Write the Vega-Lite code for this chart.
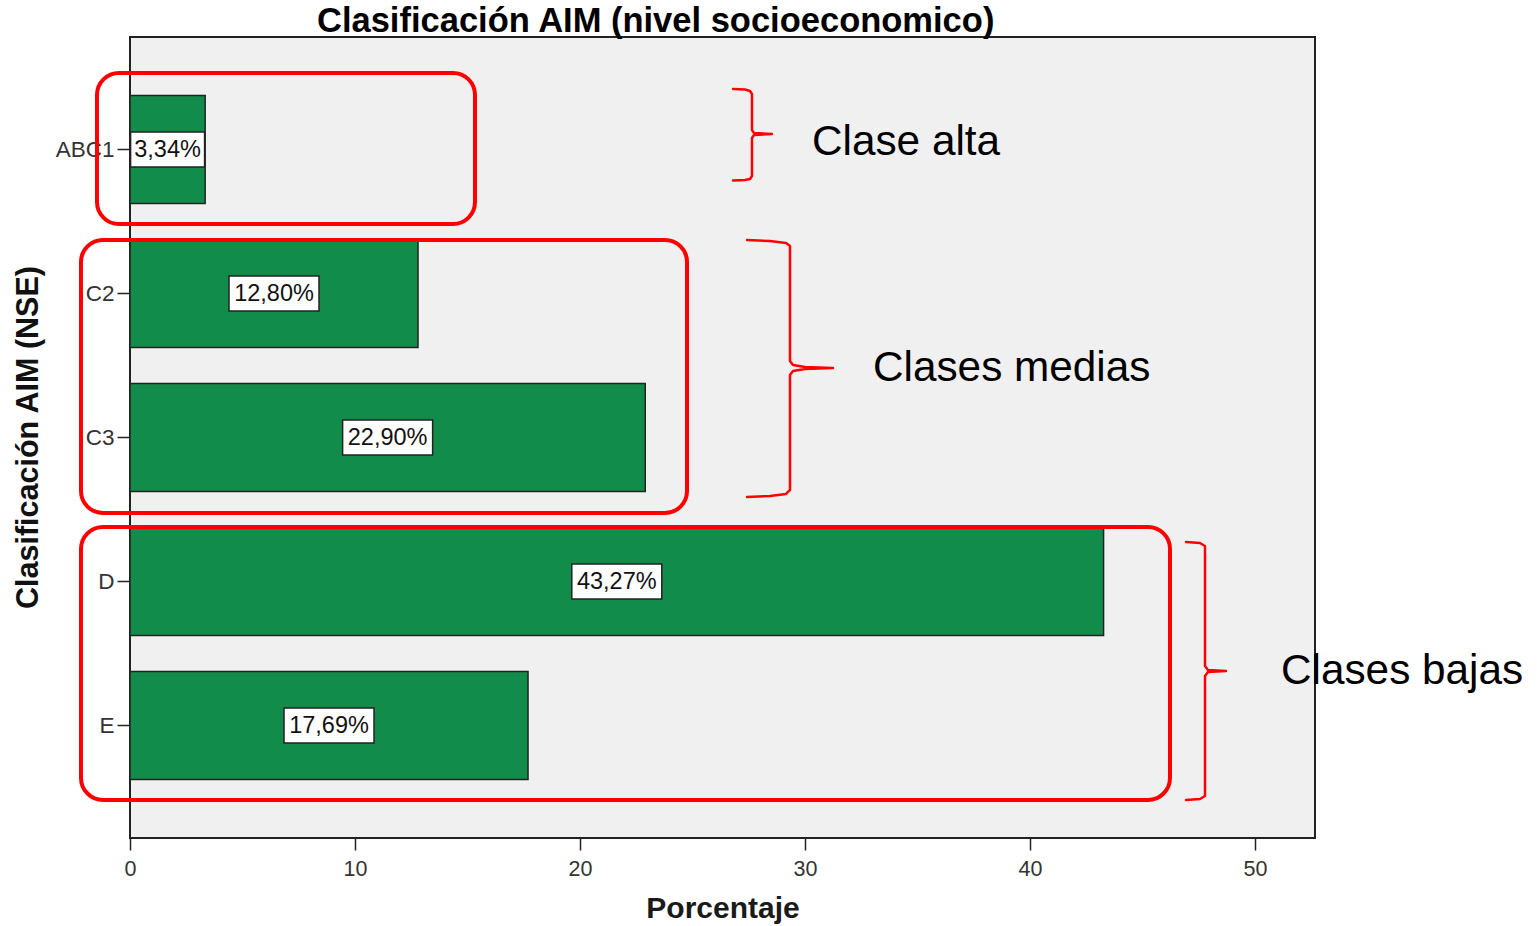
{
  "$schema": "https://vega.github.io/schema/vega-lite/v6.json",
  "width": 1185,
  "height": 801,
  "autosize": {"type": "none"},
  "padding": {"left": 130, "top": 37, "right": 225, "bottom": 88},
  "background": "white",
  "config": {
    "font": "Liberation Sans",
    "view": {"fill": "#F0F0F0", "stroke": "#222222", "strokeWidth": 2}
  },
  "title": {
    "text": "Clasificación AIM (nivel socioeconomico)",
    "fontSize": 34.5,
    "fontWeight": "bold",
    "color": "#000000",
    "anchor": "start",
    "frame": "group",
    "dx": 187,
    "dy": 6,
    "offset": 4
  },
  "datasets": {
    "bars": [
      {"cat": "ABC1", "pct": 3.34, "label": "3,34%"},
      {"cat": "C2", "pct": 12.80, "label": "12,80%"},
      {"cat": "C3", "pct": 22.90, "label": "22,90%"},
      {"cat": "D", "pct": 43.27, "label": "43,27%"},
      {"cat": "E", "pct": 17.69, "label": "17,69%"}
    ],
    "boxes": [
      {"group": "alta", "x1": -1.467, "x2": 15.333, "y1": -0.535, "y2": 0.514},
      {"group": "medias", "x1": -2.178, "x2": 24.756, "y1": 0.625, "y2": 2.521},
      {"group": "bajas", "x1": -2.178, "x2": 46.222, "y1": 2.618, "y2": 4.514}
    ],
    "braces": [
      {"b": "alta", "o": 1, "x": 26.8, "y": -0.4236},
      {"b": "alta", "o": 2, "x": 27.333, "y": -0.420},
      {"b": "alta", "o": 3, "x": 27.556, "y": -0.410},
      {"b": "alta", "o": 4, "x": 27.644, "y": -0.389},
      {"b": "alta", "o": 5, "x": 27.644, "y": -0.139},
      {"b": "alta", "o": 6, "x": 27.733, "y": -0.118},
      {"b": "alta", "o": 7, "x": 28.533, "y": -0.111},
      {"b": "alta", "o": 8, "x": 27.733, "y": -0.104},
      {"b": "alta", "o": 9, "x": 27.644, "y": -0.083},
      {"b": "alta", "o": 10, "x": 27.644, "y": 0.181},
      {"b": "alta", "o": 11, "x": 27.556, "y": 0.201},
      {"b": "alta", "o": 12, "x": 27.333, "y": 0.208},
      {"b": "alta", "o": 13, "x": 26.8, "y": 0.212},
      {"b": "medias", "o": 1, "x": 27.422, "y": 0.625},
      {"b": "medias", "o": 2, "x": 28.444, "y": 0.632},
      {"b": "medias", "o": 3, "x": 29.156, "y": 0.646},
      {"b": "medias", "o": 4, "x": 29.333, "y": 0.667},
      {"b": "medias", "o": 5, "x": 29.333, "y": 1.465},
      {"b": "medias", "o": 6, "x": 29.467, "y": 1.493},
      {"b": "medias", "o": 7, "x": 30.0, "y": 1.507},
      {"b": "medias", "o": 8, "x": 31.244, "y": 1.514},
      {"b": "medias", "o": 9, "x": 30.0, "y": 1.521},
      {"b": "medias", "o": 10, "x": 29.467, "y": 1.535},
      {"b": "medias", "o": 11, "x": 29.333, "y": 1.563},
      {"b": "medias", "o": 12, "x": 29.333, "y": 2.361},
      {"b": "medias", "o": 13, "x": 29.156, "y": 2.389},
      {"b": "medias", "o": 14, "x": 28.444, "y": 2.403},
      {"b": "medias", "o": 15, "x": 27.422, "y": 2.410},
      {"b": "bajas", "o": 1, "x": 46.933, "y": 2.722},
      {"b": "bajas", "o": 2, "x": 47.556, "y": 2.729},
      {"b": "bajas", "o": 3, "x": 47.778, "y": 2.75},
      {"b": "bajas", "o": 4, "x": 47.778, "y": 3.583},
      {"b": "bajas", "o": 5, "x": 47.911, "y": 3.611},
      {"b": "bajas", "o": 6, "x": 48.711, "y": 3.618},
      {"b": "bajas", "o": 7, "x": 47.911, "y": 3.625},
      {"b": "bajas", "o": 8, "x": 47.778, "y": 3.653},
      {"b": "bajas", "o": 9, "x": 47.778, "y": 4.486},
      {"b": "bajas", "o": 10, "x": 47.556, "y": 4.507},
      {"b": "bajas", "o": 11, "x": 46.933, "y": 4.514}
    ],
    "notes": [
      {"text": "Clase alta", "x": 30.311, "y": -0.056},
      {"text": "Clases medias", "x": 33.022, "y": 1.514},
      {"text": "Clases bajas", "x": 51.156, "y": 3.618}
    ]
  },
  "layer": [
    {
      "data": {"name": "bars"},
      "encoding": {
        "y": {
          "field": "cat",
          "type": "nominal",
          "sort": ["ABC1", "C2", "C3", "D", "E"],
          "scale": {"paddingInner": 0.25, "paddingOuter": 0.40625},
          "axis": {
            "title": "Clasificación AIM (NSE)",
            "titleFontSize": 30.5,
            "titleFontWeight": "bold",
            "titleColor": "#111111",
            "titleX": -87,
            "titleY": 400,
            "labelFontSize": 22.5,
            "labelColor": "#333333",
            "labelPadding": 3,
            "tickSize": 13,
            "tickColor": "#222222",
            "tickWidth": 1.5,
            "domain": false
          }
        }
      },
      "layer": [
        {
          "mark": {"type": "bar", "fill": "#128C4A", "stroke": "#222222", "strokeWidth": 1.5},
          "encoding": {
            "x": {
              "field": "pct",
              "type": "quantitative",
              "scale": {"domain": [0, 52.667], "nice": false, "zero": false},
              "axis": {
                "values": [0, 10, 20, 30, 40, 50],
                "title": "Porcentaje",
                "titleFontSize": 30,
                "titleFontWeight": "bold",
                "titleColor": "#1a1a1a",
                "titlePadding": 14,
                "labelFontSize": 21.5,
                "labelColor": "#333333",
                "labelPadding": 8,
                "labelFlush": false,
                "tickSize": 12,
                "tickColor": "#222222",
                "tickWidth": 1.5,
                "grid": false,
                "domain": false
              }
            }
          }
        },
        {
          "transform": [{"calculate": "datum.pct / 2", "as": "mid"}, {"filter": "datum.cat != 'ABC1'"}],
          "mark": {"type": "rect", "height": 35, "fill": "white", "stroke": "#222222", "strokeWidth": 1.5, "xOffset": -45, "x2Offset": 45},
          "encoding": {
            "x": {"field": "mid", "type": "quantitative", "scale": {"domain": [0, 52.667], "nice": false, "zero": false}},
            "x2": {"field": "mid"}
          }
        },
        {
          "transform": [{"calculate": "datum.pct / 2", "as": "mid"}, {"filter": "datum.cat == 'ABC1'"}],
          "mark": {"type": "rect", "height": 35, "fill": "white", "stroke": "#222222", "strokeWidth": 1.5, "xOffset": -37, "x2Offset": 37},
          "encoding": {
            "x": {"field": "mid", "type": "quantitative", "scale": {"domain": [0, 52.667], "nice": false, "zero": false}},
            "x2": {"field": "mid"}
          }
        },
        {
          "transform": [{"calculate": "datum.pct / 2", "as": "mid"}],
          "mark": {"type": "text", "fontSize": 23.5, "color": "#111111", "align": "center", "baseline": "middle"},
          "encoding": {
            "x": {"field": "mid", "type": "quantitative", "scale": {"domain": [0, 52.667], "nice": false, "zero": false}},
            "text": {"field": "label"}
          }
        }
      ]
    },
    {
      "layer": [
        {
          "data": {"name": "boxes"},
          "mark": {"type": "rect", "fillOpacity": 0, "fill": "white", "stroke": "#FF0000", "strokeWidth": 4, "cornerRadius": 22},
          "encoding": {
            "x": {"field": "x1", "type": "quantitative", "scale": {"domain": [0, 52.667], "nice": false, "zero": false}},
            "x2": {"field": "x2"},
            "y": {"field": "y1", "type": "quantitative", "scale": {"domain": [-0.7847, 4.778], "reverse": true, "nice": false, "zero": false}, "axis": null},
            "y2": {"field": "y2"}
          }
        },
        {
          "data": {"name": "braces"},
          "mark": {"type": "line", "stroke": "#FF0000", "strokeWidth": 2.5, "strokeJoin": "round", "strokeCap": "round"},
          "encoding": {
            "x": {"field": "x", "type": "quantitative", "scale": {"domain": [0, 52.667], "nice": false, "zero": false}},
            "y": {"field": "y", "type": "quantitative", "scale": {"domain": [-0.7847, 4.778], "reverse": true, "nice": false, "zero": false}, "axis": null},
            "detail": {"field": "b"},
            "order": {"field": "o", "type": "quantitative"}
          }
        },
        {
          "data": {"name": "notes"},
          "mark": {"type": "text", "fontSize": 42.3, "color": "#000000", "align": "left", "baseline": "middle"},
          "encoding": {
            "x": {"field": "x", "type": "quantitative", "scale": {"domain": [0, 52.667], "nice": false, "zero": false}},
            "y": {"field": "y", "type": "quantitative", "scale": {"domain": [-0.7847, 4.778], "reverse": true, "nice": false, "zero": false}, "axis": null},
            "text": {"field": "text"}
          }
        }
      ]
    }
  ],
  "resolve": {"scale": {"y": "independent"}}
}
